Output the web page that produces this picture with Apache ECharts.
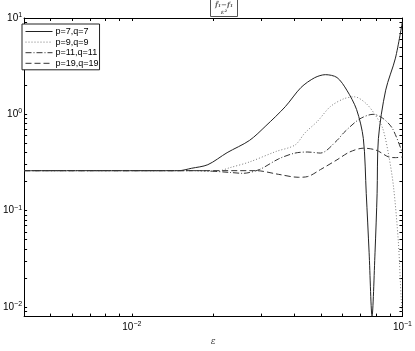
<!DOCTYPE html>
<html>
<head>
<meta charset="utf-8">
<script src="https://cdn.jsdelivr.net/npm/echarts@6/dist/echarts.min.js"></script>
<style>
  html, body { margin: 0; padding: 0; background: #fff; }
  #chart { width: 415px; height: 351px; }
</style>
</head>
<body>
<div id="chart"></div>
<script>
// epsilon values / error values
const eps7 = [0.004, 0.0149, 0.0166, 0.0191, 0.0225, 0.0272, 0.0313, 0.0369, 0.0422, 0.0474, 0.0519, 0.0573, 0.0623, 0.0677, 0.0717, 0.0735, 0.0753, 0.0772, 0.0792, 0.0806, 0.0815, 0.0867, 0.0942, 0.1];
const val7 = [0.26, 0.26, 0.275, 0.30, 0.40, 0.535, 0.76, 1.2, 1.9, 2.4, 2.58, 2.41, 1.78, 1.12, 0.56, 0.15, 0.037, 0.008, 0.037, 0.15, 0.56, 1.78, 3.83, 9.2];

const eps9 = [0.004, 0.0166, 0.0204, 0.0231, 0.0272, 0.0340, 0.0401, 0.0436, 0.0486, 0.0541, 0.0607, 0.0665, 0.0735, 0.0799, 0.0846, 0.0889, 0.0927, 0.0966, 0.0990, 0.1];
const val9 = [0.26, 0.26, 0.255, 0.28, 0.32, 0.41, 0.48, 0.64, 0.85, 1.2, 1.45, 1.52, 1.29, 0.955, 0.71, 0.38, 0.176, 0.047, 0.0118, 0.0089];

const eps11 = [0.004, 0.018, 0.0231, 0.0257, 0.0296, 0.0349, 0.0401, 0.0447, 0.0498, 0.0573, 0.0607, 0.0693, 0.0779, 0.0846, 0.0919, 0.1];
const val11 = [0.26, 0.26, 0.249, 0.244, 0.267, 0.345, 0.396, 0.406, 0.396, 0.535, 0.644, 0.89, 1.0, 0.91, 0.71, 0.396];

const eps19 = [0.004, 0.0288, 0.0349, 0.0412, 0.0447, 0.0498, 0.0573, 0.0638, 0.0717, 0.0799, 0.0889, 0.0942, 0.1];
const val19 = [0.26, 0.26, 0.238, 0.222, 0.226, 0.267, 0.337, 0.406, 0.445, 0.425, 0.361, 0.355, 0.361];

const seriesNames = ['p=7,q=7', 'p=9,q=9', 'p=11,q=11', 'p=19,q=19'];
const xLabelTicks = [0.01, 0.1];
const yLabelTicks = [0.01, 0.1, 1, 10];

const xMin = 0.004, xMax = 0.1;
const yMin = 0.00794, yMax = 10;

function zip(xs, ys) {
  return xs.map((x, i) => [x, ys[i]]);
}

// 1..9 ticks inside each decade
function logTicks(lo, hi) {
  const out = [];
  for (let e = -4; e <= 2; e++) {
    for (let m = 1; m <= 9; m++) {
      const v = +(m * Math.pow(10, e)).toPrecision(3);
      if (v >= lo * 0.999 && v <= hi * 1.001) out.push(v);
    }
  }
  return out;
}

function powLabel(v) {
  const e = Math.round(Math.log10(v));
  return '{b|10}{s|' + (e < 0 ? '\u2212' + (-e) : e) + '}';
}

const font = 'Liberation Sans, Arial, sans-serif';
const axisCol = '#000';
const labelRich = {
  b: { fontFamily: font, fontSize: 10, color: '#000' },
  s: { fontFamily: font, fontSize: 7, color: '#000', padding: [0, 0, 6, 0] }
};

function baseAxis(min, max, ticks) {
  return {
    type: 'log',
    logBase: 10,
    min,
    max,
    axisLine: { show: true, lineStyle: { color: axisCol, width: 1 } },
    axisTick: { show: true, inside: true, length: 3, customValues: ticks, lineStyle: { color: axisCol } },
    minorTick: { show: false },
    splitLine: { show: false }
  };
}

const chart = echarts.init(document.getElementById('chart'));

const xTicks = logTicks(xMin, xMax);
const yTicks = logTicks(yMin, yMax);

chart.setOption({
  animation: false,
  title: {
    text: '{n|f̃₁−f₁}\n{d|ε²}',
    left: 210,
    top: -1,
    padding: [2, 5, 1, 5],
    borderColor: '#555',
    borderWidth: 1,
    textStyle: {
      rich: {
        n: { fontSize: 7, fontStyle: 'italic', fontFamily: 'DejaVu Serif', color: '#666', lineHeight: 8, align: 'center' },
        d: { fontSize: 6, fontStyle: 'italic', fontFamily: 'DejaVu Serif', color: '#666', lineHeight: 7, align: 'center' }
      }
    }
  },
  legend: {
    orient: 'vertical',
    left: 22,
    top: 24,
    padding: [3, 1, 2, 3],
    itemWidth: 27,
    itemHeight: 8,
    itemGap: 1.6,
    itemStyle: { opacity: 0 },
    lineStyle: { width: 1 },
    borderColor: '#222',
    borderWidth: 1,
    backgroundColor: '#fff',
    textStyle: { fontFamily: font, fontSize: 9, color: '#000', padding: [0, 0, 0, -2] },
    data: seriesNames
  },
  grid: { left: 18, right: 8, top: 18, bottom: 24 },
  xAxis: [
    Object.assign(baseAxis(xMin, xMax, xTicks), {
      position: 'bottom',
      name: 'ε',
      nameLocation: 'middle',
      nameGap: 15,
      nameTextStyle: { fontFamily: 'DejaVu Serif', fontStyle: 'italic', fontSize: 9, color: '#444' },
      axisLabel: {
        show: true,
        customValues: xLabelTicks,
        formatter: powLabel,
        rich: labelRich,
        margin: 4
      }
    }),
    Object.assign(baseAxis(xMin, xMax, xTicks), {
      position: 'top',
      axisLabel: { show: false }
    })
  ],
  yAxis: [
    Object.assign(baseAxis(yMin, yMax, yTicks), {
      position: 'left',
      axisLabel: {
        show: true,
        customValues: yLabelTicks,
        formatter: powLabel,
        rich: labelRich,
        margin: 2
      }
    }),
    Object.assign(baseAxis(yMin, yMax, yTicks), {
      position: 'right',
      axisLabel: { show: false }
    })
  ],
  series: [
    {
      name: seriesNames[0], type: 'line', data: zip(eps7, val7),
      showSymbol: false, symbol: 'none', smooth: 0.3,
      lineStyle: { color: '#222', width: 1, type: 'solid' }
    },
    {
      name: seriesNames[1], type: 'line', data: zip(eps9, val9),
      showSymbol: false, symbol: 'none', smooth: 0.3,
      lineStyle: { color: '#777', width: 1, type: [1, 2] }
    },
    {
      name: seriesNames[2], type: 'line', data: zip(eps11, val11),
      showSymbol: false, symbol: 'none', smooth: 0.3,
      lineStyle: { color: '#333', width: 1, type: [6, 2, 1, 2] }
    },
    {
      name: seriesNames[3], type: 'line', data: zip(eps19, val19),
      showSymbol: false, symbol: 'none', smooth: 0.3,
      lineStyle: { color: '#333', width: 1, type: [6, 3] }
    }
  ]
});
</script>
</body>
</html>
